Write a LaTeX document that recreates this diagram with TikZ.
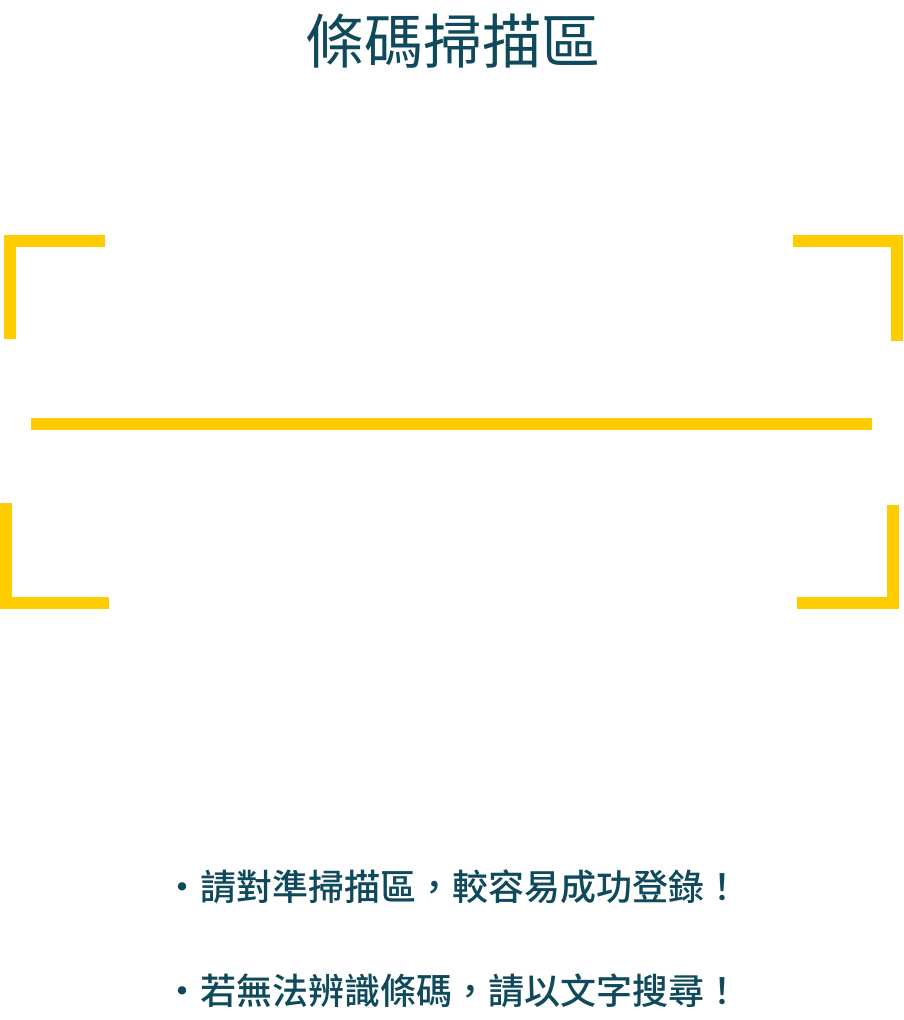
\documentclass[tikz,border=0pt]{standalone}
\usepackage{fontspec}
\setmainfont{Noto Sans CJK TC}
\newfontfamily\cjkmedium{Noto Sans CJK TC Medium}
\usepackage{xcolor}
\definecolor{scanyellow}{HTML}{FFCC00}
\definecolor{scanteal}{HTML}{0F4A5C}
\usetikzlibrary{calc}

\begin{document}
\begin{tikzpicture}[x=1pt, y=-1pt,
    corner/.style={draw=scanyellow, line width=12pt, line cap=butt, line join=miter},
    title/.style={inner sep=0pt, anchor=base, text=scanteal, font=\fontsize{59}{59}\selectfont},
    hint/.style={inner sep=0pt, anchor=base, text=scanteal, font=\cjkmedium\fontsize{36}{36}\selectfont}]
    \useasboundingbox (0,0) rectangle (903,1020);

    \node[title] (head) at (453,63) {條碼掃描區};

    % four corners of the scan frame
    \draw[corner] (105,241) -- (10,241) -- (10,339);
    \draw[corner] (793,241) -- (896.5,241) -- (896.5,341);
    \draw[corner] (6,503) -- (6,603) -- (109,603);
    \draw[corner] (892.5,505) -- (892.5,603) -- (797,603);

    % scan line
    \coordinate (lineL) at (31,424);
    \coordinate (lineR) at (872,424);
    \draw[corner] (lineL) -- (lineR);

    \node[hint] (tip1) at (452,900) {・請對準掃描區，較容易成功登錄！};
    \node[hint] (tip2) at (452,1004) {・若無法辨識條碼，請以文字搜尋！};
\end{tikzpicture}
\end{document}
